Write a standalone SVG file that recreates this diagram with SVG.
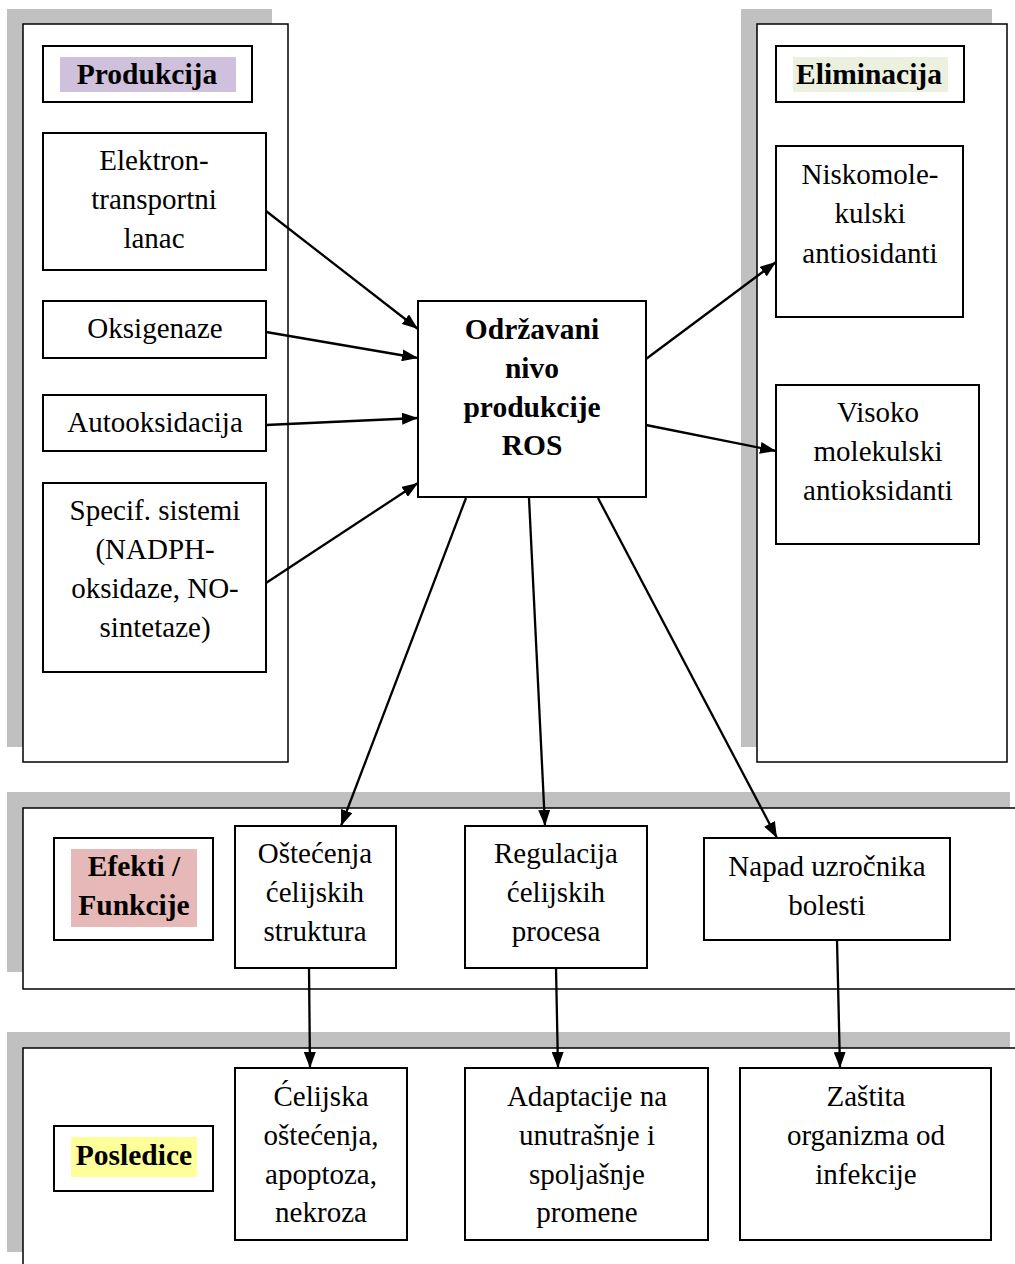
<svg xmlns="http://www.w3.org/2000/svg" width="1015" height="1264" viewBox="0 0 1015 1264">
<style>
.shadow{fill:#c0c0c0;stroke:none}
.panel{fill:#fff;stroke:#000;stroke-width:1.5}
.box{fill:#fff;stroke:#000;stroke-width:2}
text{font-family:"Liberation Serif","Times New Roman",serif;font-size:29px;fill:#000;text-anchor:middle}
.b{font-weight:bold;font-size:29.5px}
.con{stroke:#000;stroke-width:2.3;fill:none;marker-end:url(#ah)}
</style>
<defs>
<marker id="ah" viewBox="0 0 16 12" refX="16" refY="6" markerWidth="16" markerHeight="12" markerUnits="userSpaceOnUse" orient="auto">
<path d="M0,0 L16,6 L0,12 z" fill="#000"/>
</marker>
</defs>
<rect width="1015" height="1264" fill="#fff"/>

<g id="panel-produkcija">
<rect class="shadow" x="7" y="9" width="265" height="738"/>
<rect class="panel" x="23" y="24" width="265" height="738"/>
</g>
<g id="panel-eliminacija">
<rect class="shadow" x="741" y="9" width="251" height="738"/>
<rect class="panel" x="757" y="24" width="250" height="738"/>
</g>
<g id="panel-efekti">
<rect class="shadow" x="7" y="792" width="1003" height="180"/>
<rect class="panel" x="23" y="808" width="1010" height="181"/>
</g>
<g id="panel-posledice">
<rect class="shadow" x="7" y="1032" width="1003" height="220"/>
<rect class="panel" x="23" y="1048" width="1010" height="240"/>
</g>

<g id="hdr-produkcija">
<rect class="box" x="43" y="46" width="209" height="56"/>
<rect x="60" y="57" width="176" height="35" fill="#cfc1db"/>
<text class="b" x="147" y="84">Produkcija</text>
</g>
<g id="n-elektron">
<rect class="box" x="43" y="133" width="223" height="137"/>
<text x="154" y="170">Elektron-</text>
<text x="154" y="209">transportni</text>
<text x="154" y="248">lanac</text>
</g>
<g id="n-oksigenaze">
<rect class="box" x="43" y="301" width="223" height="57"/>
<text x="155" y="338">Oksigenaze</text>
</g>
<g id="n-autooksidacija">
<rect class="box" x="43" y="395" width="223" height="56"/>
<text x="155" y="432">Autooksidacija</text>
</g>
<g id="n-specif">
<rect class="box" x="43" y="483" width="223" height="189"/>
<text x="155" y="520">Specif. sistemi</text>
<text x="155" y="559">(NADPH-</text>
<text x="155" y="598">oksidaze, NO-</text>
<text x="155" y="637">sintetaze)</text>
</g>

<g id="n-ros">
<rect class="box" x="418" y="301" width="228" height="196"/>
<text class="b" x="532" y="339">Održavani</text>
<text class="b" x="532" y="378">nivo</text>
<text class="b" x="532" y="417">produkcije</text>
<text class="b" x="532" y="455">ROS</text>
</g>

<g id="hdr-eliminacija">
<rect class="box" x="776" y="46" width="188" height="56"/>
<rect x="793" y="57" width="155" height="35" fill="#ebf1de"/>
<text class="b" x="869" y="84">Eliminacija</text>
</g>
<g id="n-nisko">
<rect class="box" x="776" y="146" width="187" height="171"/>
<text x="870" y="184">Niskomole-</text>
<text x="870" y="223">kulski</text>
<text x="870" y="263">antiosidanti</text>
</g>
<g id="n-visoko">
<rect class="box" x="776" y="385" width="203" height="159"/>
<text x="878" y="422">Visoko</text>
<text x="878" y="461">molekulski</text>
<text x="878" y="500">antioksidanti</text>
</g>

<g id="hdr-efekti">
<rect class="box" x="54" y="838" width="159" height="102"/>
<rect x="71" y="849" width="126" height="78" fill="#e6b8b7"/>
<text class="b" x="134" y="876">Efekti /</text>
<text class="b" x="134" y="915">Funkcije</text>
</g>
<g id="n-ostecenja">
<rect class="box" x="235" y="826" width="161" height="142"/>
<text x="315" y="863">Oštećenja</text>
<text x="315" y="902">ćelijskih</text>
<text x="315" y="941">struktura</text>
</g>
<g id="n-regulacija">
<rect class="box" x="465" y="826" width="182" height="142"/>
<text x="556" y="863">Regulacija</text>
<text x="556" y="902">ćelijskih</text>
<text x="556" y="941">procesa</text>
</g>
<g id="n-napad">
<rect class="box" x="704" y="838" width="246" height="102"/>
<text x="827" y="876">Napad uzročnika</text>
<text x="827" y="915">bolesti</text>
</g>

<g id="hdr-posledice">
<rect class="box" x="54" y="1126" width="159" height="65"/>
<rect x="71" y="1137" width="126" height="40" fill="#ffff99"/>
<text class="b" x="134" y="1165">Posledice</text>
</g>
<g id="n-celijska">
<rect class="box" x="235" y="1068" width="172" height="172"/>
<text x="321" y="1106">Ćelijska</text>
<text x="321" y="1145">oštećenja,</text>
<text x="321" y="1184">apoptoza,</text>
<text x="321" y="1222">nekroza</text>
</g>
<g id="n-adaptacije">
<rect class="box" x="465" y="1068" width="243" height="172"/>
<text x="587" y="1106">Adaptacije na</text>
<text x="587" y="1145">unutrašnje i</text>
<text x="587" y="1184">spoljašnje</text>
<text x="587" y="1222">promene</text>
</g>
<g id="n-zastita">
<rect class="box" x="740" y="1068" width="251" height="172"/>
<text x="866" y="1106">Zaštita</text>
<text x="866" y="1145">organizma od</text>
<text x="866" y="1184">infekcije</text>
</g>

<g id="connectors">
<line class="con" x1="266" y1="211" x2="418" y2="329"/>
<line class="con" x1="266" y1="332" x2="418" y2="358"/>
<line class="con" x1="266" y1="425" x2="418" y2="418"/>
<line class="con" x1="266" y1="583" x2="418" y2="483"/>
<line class="con" x1="646" y1="359" x2="776" y2="262"/>
<line class="con" x1="646" y1="425" x2="776" y2="451"/>
<line class="con" x1="466" y1="498" x2="341" y2="826"/>
<line class="con" x1="529" y1="498" x2="545" y2="826"/>
<line class="con" x1="598" y1="498" x2="777" y2="838"/>
<line class="con" x1="309" y1="968" x2="310" y2="1068"/>
<line class="con" x1="556" y1="968" x2="558" y2="1068"/>
<line class="con" x1="837" y1="940" x2="840" y2="1068"/>
</g>
</svg>
